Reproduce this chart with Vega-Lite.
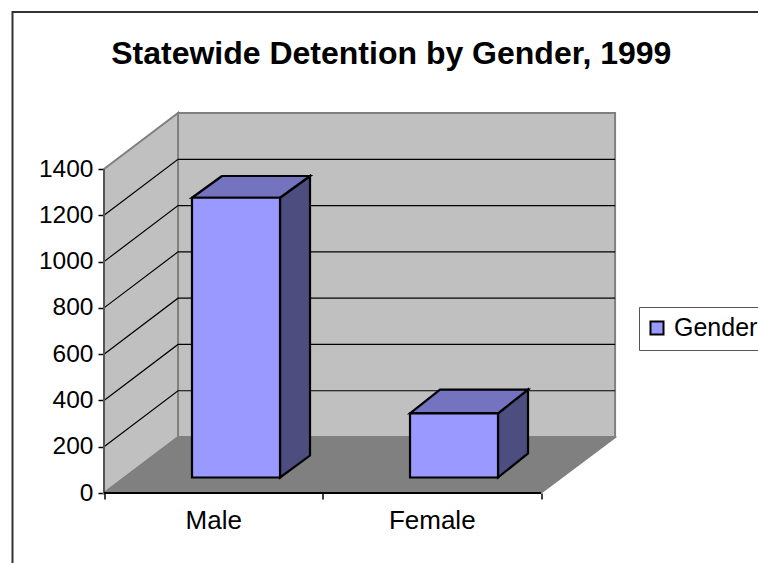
{
"$schema":"https://vega.github.io/schema/vega-lite/v6.json",
"autosize":"none",
"padding":{"left":12.5,"top":12,"right":0,"bottom":0},
"width":745.5,"height":551,
"background":"white",
"view":{"stroke":null,"fill":"white"},
"title":{"text":"Statewide Detention by Gender, 1999","font":"Liberation Sans","fontSize":32,"fontWeight":"bold","color":"black","anchor":"middle","offset":-88,"dx":6,"baseline":"alphabetic"},
"datasets":{
"frame":[{"x":-0.4188,"y":-302.5},{"x":-0.4188,"y":2078.7},{"x":2.9931,"y":2078.7}],
"backWall":[{"x":0.3387,"x2":2.339,"y":242,"y2":1642}],
"sideWall":[{"x":0,"y":0,"y2":1400},{"x":0.3387,"y":242,"y2":1642}],
"floor":[{"y":0,"x":0,"x2":2},{"y":240,"x":0.3387,"x2":2.339}],
"grid":[
{"level":200,"x":0,"y":200},{"level":200,"x":0.3387,"y":442},{"level":200,"x":2.339,"y":442},
{"level":400,"x":0,"y":400},{"level":400,"x":0.3387,"y":642},{"level":400,"x":2.339,"y":642},
{"level":600,"x":0,"y":600},{"level":600,"x":0.3387,"y":842},{"level":600,"x":2.339,"y":842},
{"level":800,"x":0,"y":800},{"level":800,"x":0.3387,"y":1042},{"level":800,"x":2.339,"y":1042},
{"level":1000,"x":0,"y":1000},{"level":1000,"x":0.3387,"y":1242},{"level":1000,"x":2.339,"y":1242},
{"level":1200,"x":0,"y":1200},{"level":1200,"x":0.3387,"y":1442},{"level":1200,"x":2.339,"y":1442}],
"axisLineY":[{"x":0,"y":0},{"x":0,"y":1400}],
"axisLineX":[{"x":0,"y":0},{"x":2,"y":0}],
"barFront":[
{"category":"Male","series":"Gender","x":0.4027,"x2":0.8055,"y":67,"y2":1276},
{"category":"Female","series":"Gender","x":1.4005,"x2":1.8032,"y":67,"y2":344}],
"barTop":[
{"category":"Male","y":1276,"x":0.4027,"x2":0.8055},
{"category":"Male","y":1370,"x":0.54,"x2":0.9428},
{"category":"Female","y":344,"x":1.4005,"x2":1.8032},
{"category":"Female","y":447,"x":1.5378,"x2":1.9405}],
"barSide":[
{"category":"Male","x":0.8055,"y":67,"y2":1276},
{"category":"Male","x":0.9428,"y":162,"y2":1370},
{"category":"Female","x":1.8032,"y":67,"y2":344},
{"category":"Female","x":1.9405,"y":171,"y2":447}]
},
"layer":[
{"data":{"name":"backWall"},
 "mark":{"type":"rect","fill":"#c0c0c0","stroke":"#808080","strokeWidth":2},
 "encoding":{
  "x":{"field":"x","type":"quantitative","title":null,"scale":{"domain":[-0.4188,2.9931],"nice":false,"zero":false},
   "axis":{"orient":"bottom","domain":false,"grid":false,"values":[0,0.5,1,1.5,2],"offset":-70,"tickSize":6,"tickColor":"black","tickWidth":1.5,"tickOpacity":{"condition":{"test":"datum.value % 1 == 0","value":1},"value":0},"labelExpr":"datum.value == 0.5 ? 'Male' : datum.value == 1.5 ? 'Female' : ''","labelFont":"Liberation Sans","labelFontSize":26,"labelColor":"black","labelPadding":8,"labelAngle":0,"labelOverlap":false}},
  "x2":{"field":"x2"},
  "y":{"field":"y","type":"quantitative","title":null,"scale":{"domain":[-302.5,2078.7],"nice":false,"zero":false},
   "axis":{"orient":"left","offset":-91.5,"domain":false,"grid":false,"values":[0,200,400,600,800,1000,1200,1400],"tickSize":6,"tickColor":"black","tickWidth":1.5,"labelFont":"Liberation Sans","labelFontSize":24.5,"labelColor":"black","labelPadding":5,"format":"d"}},
  "y2":{"field":"y2"}}},
{"data":{"name":"sideWall"},
 "mark":{"type":"area","orient":"vertical","fill":"#c0c0c0","stroke":"#808080","strokeWidth":2},
 "encoding":{"x":{"field":"x","type":"quantitative"},"y":{"field":"y","type":"quantitative"},"y2":{"field":"y2"}}},
{"data":{"name":"grid"},
 "mark":{"type":"line","stroke":"black","strokeWidth":1.2},
 "encoding":{"x":{"field":"x","type":"quantitative"},"y":{"field":"y","type":"quantitative"},"detail":{"field":"level"},"order":{"field":"x"}}},
{"data":{"name":"floor"},
 "mark":{"type":"area","orient":"horizontal","fill":"#808080","stroke":"#808080","strokeWidth":1.5},
 "encoding":{"y":{"field":"y","type":"quantitative"},"x":{"field":"x","type":"quantitative"},"x2":{"field":"x2"}}},
{"data":{"name":"axisLineY"},
 "mark":{"type":"line","stroke":"#555555","strokeWidth":2},
 "encoding":{"x":{"field":"x","type":"quantitative"},"y":{"field":"y","type":"quantitative"}}},
{"data":{"name":"axisLineX"},
 "mark":{"type":"line","stroke":"black","strokeWidth":2},
 "encoding":{"x":{"field":"x","type":"quantitative"},"y":{"field":"y","type":"quantitative"}}},
{"data":{"name":"frame"},
 "mark":{"type":"line","stroke":"#333333","strokeWidth":2,"clip":false},
 "encoding":{"x":{"field":"x","type":"quantitative"},"y":{"field":"y","type":"quantitative"},"order":{"field":"x"}}},
{"data":{"name":"barSide"},
 "mark":{"type":"area","orient":"vertical","fill":"#4d4d80","stroke":"black","strokeWidth":2.2},
 "encoding":{"x":{"field":"x","type":"quantitative"},"y":{"field":"y","type":"quantitative"},"y2":{"field":"y2"},"detail":{"field":"category"}}},
{"data":{"name":"barTop"},
 "mark":{"type":"area","orient":"horizontal","fill":"#7373bf","stroke":"black","strokeWidth":2.2},
 "encoding":{"y":{"field":"y","type":"quantitative"},"x":{"field":"x","type":"quantitative"},"x2":{"field":"x2"},"detail":{"field":"category"}}},
{"data":{"name":"barFront"},
 "mark":{"type":"rect","stroke":"black","strokeWidth":2.2},
 "encoding":{"x":{"field":"x","type":"quantitative"},"x2":{"field":"x2"},"y":{"field":"y","type":"quantitative"},"y2":{"field":"y2"},
  "fill":{"field":"series","type":"nominal","title":null,"scale":{"range":["#9999ff"]},
   "legend":{"orient":"none","legendX":626.5,"legendY":295,"title":null,"fillColor":"white","strokeColor":"#555555","padding":8.5,"symbolType":"square","symbolSize":170,"symbolOffset":-3,"symbolStrokeColor":"black","symbolStrokeWidth":2,"symbolFillColor":"#9999ff","labelFont":"Liberation Sans","labelFontSize":25,"labelColor":"black","labelOffset":4.5}}}}
]
}
